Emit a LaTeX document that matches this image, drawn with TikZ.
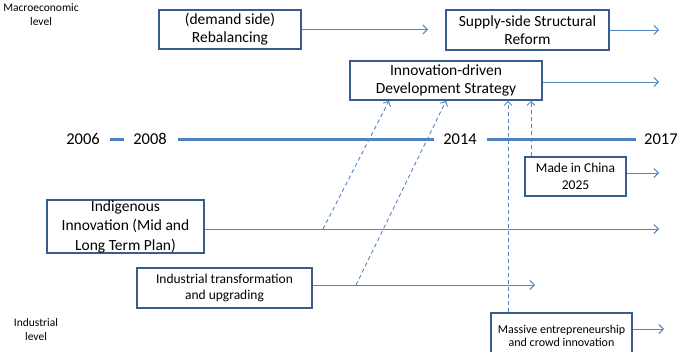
\documentclass[tikz,border=0pt]{standalone}
\usepackage{fontspec}
\setmainfont{Carlito}
\usetikzlibrary{arrows.meta}
\definecolor{boxc}{RGB}{56,93,138}
\definecolor{linec}{RGB}{84,134,196}
\definecolor{tlc}{RGB}{79,129,189}
\tikzset{
  bigbox/.style={draw=boxc, line width=1.6pt, fill=white, inner sep=0pt, align=center,
    font=\fontsize{15.5}{18}\selectfont},
  smallbox/.style={draw=boxc, line width=1.6pt, fill=white, inner sep=0pt, align=center,
    font=\fontsize{13.5}{16.5}\selectfont},
  flow/.style={draw=linec, line width=0.9pt, -{Straight Barb[length=4.5pt,width=9pt]}},
  dflow/.style={draw=linec, line width=0.9pt, dash pattern=on 4pt off 3pt,
    -{Straight Barb[length=4pt,width=8pt]}},
  tl/.style={draw=tlc, line width=3pt},
  year/.style={font=\fontsize{16.5}{18}\selectfont, inner sep=0pt},
  lvl/.style={font=\fontsize{11.5}{14}\selectfont, align=center, inner sep=0pt}
}
\begin{document}
\begin{tikzpicture}[x=1pt,y=-1pt]
\useasboundingbox (0,0) rectangle (679,351);

% level labels
\node[lvl] (macro) at (41,15) {Macroeconomic\\level};
\node[lvl] (indl) at (36,330) {Industrial\\level};

% timeline
\node[year] (y2006) at (83,139) {2006};
\node[year] (y2008) at (150,139) {2008};
\node[year] (y2014) at (460,139) {2014};
\node[year, anchor=west] (y2017) at (644,139) {2017};
\draw[tl] (110,139) -- (124,139);
\draw[tl] (178,139) -- (434,139);
\draw[tl] (487,139) -- (636,139);

% boxes
\node[bigbox, minimum width=142pt, minimum height=39pt] (reb) at (230,29.5) {(demand side)\\Rebalancing};
\node[bigbox, minimum width=163pt, minimum height=40pt] (sup) at (527.5,30) {Supply-side Structural\\Reform};
\node[bigbox, minimum width=192pt, minimum height=39pt] (inn) at (446,80.5) {Innovation-driven\\Development Strategy};
\node[smallbox, minimum width=101pt, minimum height=39pt] (made) at (575.5,176.5) {Made in China\\2025};
\node[bigbox, minimum width=157pt, minimum height=51pt, font=\fontsize{15.5}{19.5}\selectfont] (ind) at (125.5,226.5) {Indigenous\\Innovation (Mid and\\Long Term Plan)};
\node[smallbox, minimum width=175pt, minimum height=40pt] (tra) at (224.5,288) {Industrial transformation\\and upgrading};
\node[smallbox, minimum width=141pt, minimum height=46pt, font=\fontsize{12}{13.5}\selectfont] (mas) at (561.5,336) {Massive entrepreneurship\\and crowd innovation};

% arrow ends
\coordinate (rebA) at (428,29.5);
\coordinate (supA) at (659,30);
\coordinate (innA) at (659,82);
\coordinate (madeA) at (659,173);
\coordinate (indA) at (659,229);
\coordinate (traA) at (535,285);
\coordinate (masA) at (664,329);

\draw[flow] (reb.east |- rebA) -- (rebA);
\draw[flow] (sup.east |- supA) -- (supA);
\draw[flow] (inn.east |- innA) -- (innA);
\draw[flow] (made.east |- madeA) -- (madeA);
\draw[flow] (ind.east |- indA) -- (indA);
\draw[flow] (tra.east |- traA) -- (traA);
\draw[flow] (mas.east |- masA) -- (masA);

% dashed influences
\coordinate (d1s) at (323,229);
\coordinate (d1e) at (389,0);
\coordinate (d2s) at (356,285);
\coordinate (d2e) at (446,0);
\coordinate (d3) at (508,0);
\coordinate (d4) at (531,0);
\draw[dflow] (d1s) -- (inn.south -| d1e);
\draw[dflow] (d2s) -- (inn.south -| d2e);
\draw[dflow] (mas.north -| d3) -- (inn.south -| d3);
\draw[dflow] (made.north -| d4) -- (inn.south -| d4);
\end{tikzpicture}
\end{document}
